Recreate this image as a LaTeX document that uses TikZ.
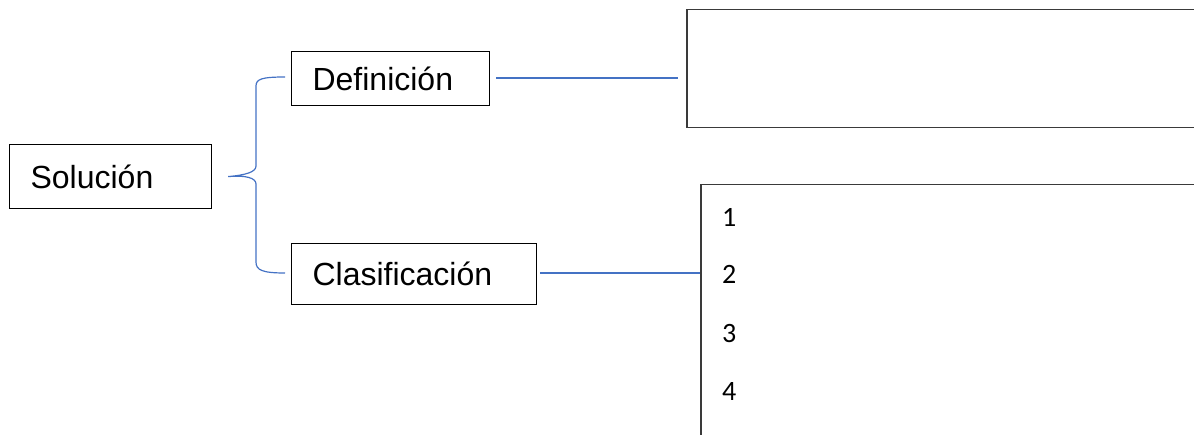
\documentclass[tikz,border=0pt]{standalone}
\usepackage{fontspec}
\setmainfont{Liberation Sans}
\newfontfamily\numfont{Carlito}
\definecolor{linkblue}{HTML}{4472C4}
\definecolor{boxgray}{HTML}{3A3A3A}
\tikzset{
  labelbox/.style={draw=black, line width=1.2pt, rectangle, anchor=north west,
    inner xsep=21pt, inner ysep=0pt, align=left,
    font=\fontsize{32}{38}\selectfont},
  bigbox/.style={draw=boxgray, line width=1.5pt, rectangle, anchor=north west, inner sep=0pt},
  link/.style={draw=linkblue, line width=1.2pt},
  numlabel/.style={anchor=west, inner sep=0pt, font=\numfont\fontsize{28}{33}\selectfont}
}
\begin{document}
\begin{tikzpicture}[x=1pt,y=-1pt]
\useasboundingbox (0,0) rectangle (1194,435);
\clip (0,0) rectangle (1194,435);
% left boxes
\node[labelbox, text width=160pt, minimum height=64pt] (sol) at (9,144) {Solución};
\node[labelbox, text width=156pt, minimum height=54pt] (def) at (291,51) {Definición};
\node[labelbox, text width=203pt, minimum height=61pt] (cla) at (291,243) {Clasificación};
% right boxes (run off the page)
\node[bigbox, minimum width=560pt, minimum height=118pt] (defbox) at (686,9) {};
\node[bigbox, minimum width=560pt, minimum height=300pt] (clabox) at (700,184) {};
% numbers
\node[numlabel] (n1) at (722,217) {1};
\node[numlabel] (n2) at (722,274) {2};
\node[numlabel] (n3) at (722,334) {3};
\node[numlabel] (n4) at (722,392) {4};
% brace
\coordinate (btip) at ([xshift=16pt]sol.east);
\coordinate (btop) at (285,77);
\coordinate (bbot) at (285,273);
\draw[link] (btop) .. controls (262,77) and (256,79) .. (256,86)
  -- (256,166) .. controls (256,172) and (246,175) .. (btip)
  .. controls (246,175) and (256,178) .. (256,184)
  -- (256,262) .. controls (256,270) and (262,273) .. (bbot);
% connectors
\draw[link] ([xshift=6pt]def.east |- 0,78) -- ([xshift=-8pt]defbox.west |- 0,78);
\draw[link] ([xshift=3pt]cla.east |- 0,273) -- (clabox.west |- 0,273);
\end{tikzpicture}
\end{document}
